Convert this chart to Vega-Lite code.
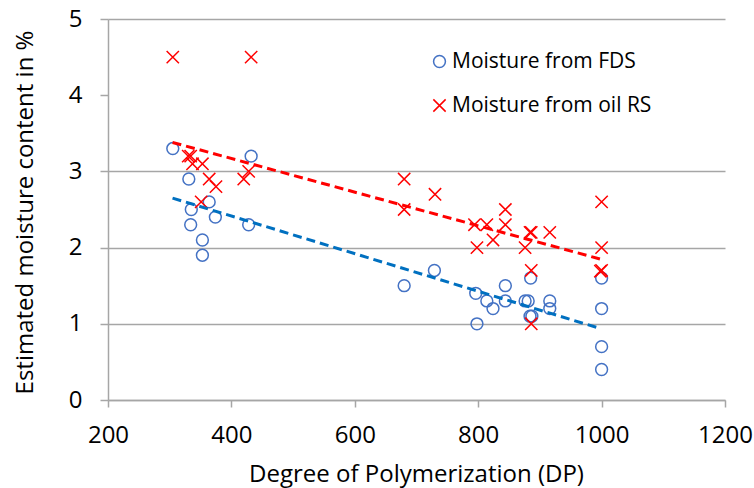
{
  "$schema": "https://vega.github.io/schema/vega-lite/v6.json",
  "autosize": "none",
  "width": 617,
  "height": 381,
  "padding": {"left": 108, "top": 19, "right": 29, "bottom": 88},
  "background": "white",
  "config": {
    "view": {"stroke": null},
    "font": "Open Sans",
    "axis": {
      "labelFont": "Open Sans", "titleFont": "Open Sans",
      "labelFontSize": 24, "titleFontSize": 24,
      "labelColor": "#000000", "titleColor": "#000000",
      "titleFontWeight": "normal",
      "domainColor": "#a6a6a6", "domainWidth": 1.5,
      "tickColor": "#a6a6a6", "tickWidth": 1.5,
      "gridColor": "#a6a6a6", "gridWidth": 1.5
    }
  },
  "datasets": {
    "pts": [
      {"dp": 305, "m": 3.3, "s": "Moisture from FDS"},
      {"dp": 432, "m": 3.2, "s": "Moisture from FDS"},
      {"dp": 331, "m": 2.9, "s": "Moisture from FDS"},
      {"dp": 364, "m": 2.6, "s": "Moisture from FDS"},
      {"dp": 335, "m": 2.5, "s": "Moisture from FDS"},
      {"dp": 374, "m": 2.4, "s": "Moisture from FDS"},
      {"dp": 334, "m": 2.3, "s": "Moisture from FDS"},
      {"dp": 428, "m": 2.3, "s": "Moisture from FDS"},
      {"dp": 353, "m": 2.1, "s": "Moisture from FDS"},
      {"dp": 353, "m": 1.9, "s": "Moisture from FDS"},
      {"dp": 680, "m": 1.5, "s": "Moisture from FDS"},
      {"dp": 729, "m": 1.7, "s": "Moisture from FDS"},
      {"dp": 885, "m": 1.6, "s": "Moisture from FDS"},
      {"dp": 1000, "m": 1.6, "s": "Moisture from FDS"},
      {"dp": 796, "m": 1.4, "s": "Moisture from FDS"},
      {"dp": 844, "m": 1.5, "s": "Moisture from FDS"},
      {"dp": 814, "m": 1.3, "s": "Moisture from FDS"},
      {"dp": 824, "m": 1.2, "s": "Moisture from FDS"},
      {"dp": 844, "m": 1.3, "s": "Moisture from FDS"},
      {"dp": 876, "m": 1.3, "s": "Moisture from FDS"},
      {"dp": 881, "m": 1.3, "s": "Moisture from FDS"},
      {"dp": 916, "m": 1.3, "s": "Moisture from FDS"},
      {"dp": 916, "m": 1.2, "s": "Moisture from FDS"},
      {"dp": 884, "m": 1.1, "s": "Moisture from FDS"},
      {"dp": 887, "m": 1.1, "s": "Moisture from FDS"},
      {"dp": 798, "m": 1.0, "s": "Moisture from FDS"},
      {"dp": 1000, "m": 1.2, "s": "Moisture from FDS"},
      {"dp": 1000, "m": 0.7, "s": "Moisture from FDS"},
      {"dp": 1000, "m": 0.4, "s": "Moisture from FDS"},
      {"dp": 305, "m": 4.5, "s": "Moisture from oil RS"},
      {"dp": 432, "m": 4.5, "s": "Moisture from oil RS"},
      {"dp": 330, "m": 3.2, "s": "Moisture from oil RS"},
      {"dp": 334, "m": 3.2, "s": "Moisture from oil RS"},
      {"dp": 337, "m": 3.1, "s": "Moisture from oil RS"},
      {"dp": 353, "m": 3.1, "s": "Moisture from oil RS"},
      {"dp": 364, "m": 2.9, "s": "Moisture from oil RS"},
      {"dp": 375, "m": 2.8, "s": "Moisture from oil RS"},
      {"dp": 351, "m": 2.6, "s": "Moisture from oil RS"},
      {"dp": 420, "m": 2.9, "s": "Moisture from oil RS"},
      {"dp": 428, "m": 3.0, "s": "Moisture from oil RS"},
      {"dp": 680, "m": 2.9, "s": "Moisture from oil RS"},
      {"dp": 680, "m": 2.5, "s": "Moisture from oil RS"},
      {"dp": 730, "m": 2.7, "s": "Moisture from oil RS"},
      {"dp": 1000, "m": 2.6, "s": "Moisture from oil RS"},
      {"dp": 844, "m": 2.5, "s": "Moisture from oil RS"},
      {"dp": 794, "m": 2.3, "s": "Moisture from oil RS"},
      {"dp": 814, "m": 2.3, "s": "Moisture from oil RS"},
      {"dp": 844, "m": 2.3, "s": "Moisture from oil RS"},
      {"dp": 824, "m": 2.1, "s": "Moisture from oil RS"},
      {"dp": 884, "m": 2.2, "s": "Moisture from oil RS"},
      {"dp": 886, "m": 2.2, "s": "Moisture from oil RS"},
      {"dp": 916, "m": 2.2, "s": "Moisture from oil RS"},
      {"dp": 798, "m": 2.0, "s": "Moisture from oil RS"},
      {"dp": 876, "m": 2.0, "s": "Moisture from oil RS"},
      {"dp": 1000, "m": 2.0, "s": "Moisture from oil RS"},
      {"dp": 886, "m": 1.7, "s": "Moisture from oil RS"},
      {"dp": 1000, "m": 1.7, "s": "Moisture from oil RS"},
      {"dp": 998, "m": 1.69, "s": "Moisture from oil RS"},
      {"dp": 886, "m": 1.0, "s": "Moisture from oil RS"}
    ],
    "trend": [
      {"dp": 304.6, "m": 2.65, "t": "FDS"},
      {"dp": 993, "m": 0.95, "t": "FDS"},
      {"dp": 304.6, "m": 3.38, "t": "RS"},
      {"dp": 997.7, "m": 1.85, "t": "RS"}
    ]
  },
  "layer": [
    {
      "mark": {"type": "rule", "color": "#a6a6a6", "strokeWidth": 1.5},
      "encoding": {
        "x": {"datum": 200, "type": "quantitative"},
        "x2": {"datum": 645},
        "y": {"datum": 4, "type": "quantitative"}
      }
    },
    {
      "data": {"name": "pts"},
      "mark": {"type": "point", "filled": false, "strokeWidth": 1.5, "size": 140, "opacity": 1},
      "encoding": {
        "x": {
          "field": "dp", "type": "quantitative",
          "scale": {"domain": [200, 1200], "nice": false, "zero": false},
          "axis": {
            "values": [200, 400, 600, 800, 1000, 1200],
            "format": "d",
            "grid": false,
            "tickSize": 7,
            "labelPadding": 16,
            "title": "Degree of Polymerization (DP)",
            "titleX": 308,
            "titleY": 81,
            "titleBaseline": "alphabetic",
            "titleAnchor": "middle",
            "labelFlush": false
          }
        },
        "y": {
          "field": "m", "type": "quantitative",
          "scale": {"domain": [0, 5], "nice": false},
          "axis": {
            "values": [0, 1, 2, 3, 4, 5],
            "format": "d",
            "grid": true,
            "gridColor": {"condition": {"test": "datum.value === 4", "value": "transparent"}, "value": "#a6a6a6"},
            "tickSize": 8,
            "labelPadding": 18,
            "title": "Estimated moisture content in %",
            "titleAngle": -90,
            "titleX": -76,
            "titleY": 193,
            "titleAlign": "center",
            "titleBaseline": "alphabetic",
            "labelFlush": false
          }
        },
        "color": {
          "field": "s", "type": "nominal",
          "scale": {"domain": ["Moisture from FDS", "Moisture from oil RS"], "range": ["#4472C4", "#FF0000"]},
          "legend": {
            "title": null,
            "orient": "none",
            "legendX": 321,
            "legendY": 32,
            "padding": 0,
            "labelFont": "Open Sans",
            "labelFontSize": 21,
            "labelColor": "#000000",
            "labelOffset": 2,
            "rowPadding": 22,
            "symbolSize": 140,
            "symbolStrokeWidth": 1.5,
            "labelLimit": 400
          }
        },
        "shape": {
          "field": "s", "type": "nominal",
          "scale": {"domain": ["Moisture from FDS", "Moisture from oil RS"], "range": ["circle", "M-1.04,-1.04L1.04,1.04M-1.04,1.04L1.04,-1.04"]},
          "legend": null
        }
      }
    },
    {
      "data": {"name": "trend"},
      "transform": [{"filter": "datum.t === 'FDS'"}],
      "mark": {"type": "line", "color": "#0070C0", "strokeWidth": 3, "strokeDash": [9, 5]},
      "encoding": {
        "x": {"field": "dp", "type": "quantitative"},
        "y": {"field": "m", "type": "quantitative"}
      }
    },
    {
      "data": {"name": "trend"},
      "transform": [{"filter": "datum.t === 'RS'"}],
      "mark": {"type": "line", "color": "#FF0000", "strokeWidth": 3, "strokeDash": [9, 5]},
      "encoding": {
        "x": {"field": "dp", "type": "quantitative"},
        "y": {"field": "m", "type": "quantitative"}
      }
    }
  ]
}
